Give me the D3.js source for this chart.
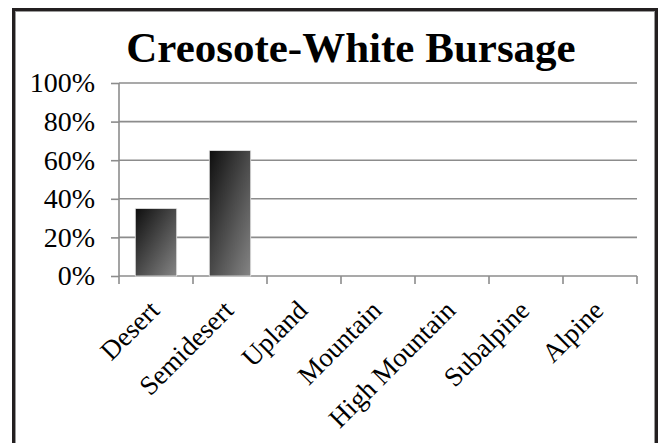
<!DOCTYPE html>
<html>
<head>
<meta charset="utf-8">
<script src="https://cdn.jsdelivr.net/npm/d3@7"></script>
<style>
  html, body { margin: 0; padding: 0; background: #fff; }
  svg { display: block; }
</style>
</head>
<body>
<svg id="chart" width="659" height="443"></svg>
<script>
// Share of the community found in each vegetation zone
const chartTitle = "Creosote-White Bursage";
const zones = ["Desert", "Semidesert", "Upland", "Mountain", "High Mountain", "Subalpine", "Alpine"];
const shares = [35, 65, 0, 0, 0, 0, 0];
const yTicks = [0, 20, 40, 60, 80, 100];

const svg = d3.select("#chart");
const W = 659, H = 443;
const margin = { left: 119, right: 22, top: 83, bottom: 167 };
const plotW = W - margin.left - margin.right;
const plotH = H - margin.top - margin.bottom;

// frame around the chart (runs past the bottom edge)
svg.append("rect").attr("x", 13.5).attr("y", 9.5).attr("width", 643).attr("height", 470)
  .attr("fill", "#fff").attr("stroke", "#231f20").attr("stroke-width", 3);
svg.append("rect").attr("x", 15.5).attr("y", 11.5).attr("width", 639).attr("height", 470)
  .attr("fill", "none").attr("stroke", "#9a9a9a").attr("stroke-width", 1);

// title
svg.append("text")
  .attr("x", 351).attr("y", 62)
  .attr("text-anchor", "middle")
  .attr("font-family", "'Liberation Serif', 'Times New Roman', serif")
  .attr("font-weight", "bold")
  .attr("font-size", 43)
  .attr("fill", "#000")
  .text(chartTitle);

const g = svg.append("g").attr("transform", `translate(${margin.left},${margin.top})`);

const x = d3.scaleBand().domain(zones).range([0, plotW]).padding(0);
const y = d3.scaleLinear().domain([0, 100]).range([plotH, 0]);

const gridColor = "#8c8c8c";

// horizontal gridlines with left tick stubs and percentage labels
const yAxis = d3.axisLeft(y).tickValues(yTicks).tickSize(8).tickFormat(d => d + "%");
const yg = g.append("g").call(yAxis);
yg.select(".domain").remove();
yg.selectAll(".tick line").attr("stroke", gridColor).attr("stroke-width", 1.6);
yg.selectAll(".tick text")
  .attr("x", -24).attr("dy", "0.32em")
  .attr("font-family", "'Liberation Serif', 'Times New Roman', serif")
  .attr("font-size", 28).attr("fill", "#000");
g.append("g").selectAll("line").data(yTicks).join("line")
  .attr("x1", 0).attr("x2", plotW)
  .attr("y1", d => y(d)).attr("y2", d => y(d))
  .attr("stroke", gridColor).attr("stroke-width", 1.6);

// vertical value axis line
g.append("line").attr("x1", 0).attr("x2", 0).attr("y1", y(100)).attr("y2", y(0))
  .attr("stroke", gridColor).attr("stroke-width", 1.6);

// bar gradient
const defs = svg.append("defs");
const grad = defs.append("linearGradient").attr("id", "barFill")
  .attr("x1", 0).attr("y1", 0).attr("x2", 1).attr("y2", 1);
grad.append("stop").attr("offset", "0%").attr("stop-color", "#0e0e0e");
grad.append("stop").attr("offset", "100%").attr("stop-color", "#858585");

// bars
const barW = x.bandwidth() * 0.56;
g.append("g").selectAll("rect").data(zones.map((z, i) => ({ z, v: shares[i] })).filter(d => d.v > 0))
  .join("rect")
  .attr("x", d => x(d.z) + (x.bandwidth() - barW) / 2)
  .attr("y", d => y(d.v))
  .attr("width", barW)
  .attr("height", d => y(0) - y(d.v))
  .attr("fill", "url(#barFill)")
  .attr("stroke", "#e6e6e6").attr("stroke-width", 0.8);

// category axis: boundary ticks
const bounds = zones.map(z => x(z)).concat([plotW]);
g.append("g").selectAll("line").data(bounds).join("line")
  .attr("x1", d => d).attr("x2", d => d)
  .attr("y1", y(0)).attr("y2", y(0) + 8)
  .attr("stroke", gridColor).attr("stroke-width", 1.6);

// rotated category labels
g.append("g").selectAll("text").data(zones).join("text")
  .attr("transform", d => `translate(${x(d) + x.bandwidth() / 2 + 5},${y(0) + 36}) rotate(-45)`)
  .attr("text-anchor", "end")
  .attr("font-family", "'Liberation Serif', 'Times New Roman', serif")
  .attr("font-size", 27)
  .attr("fill", "#000")
  .text(d => d);
</script>
</body>
</html>
